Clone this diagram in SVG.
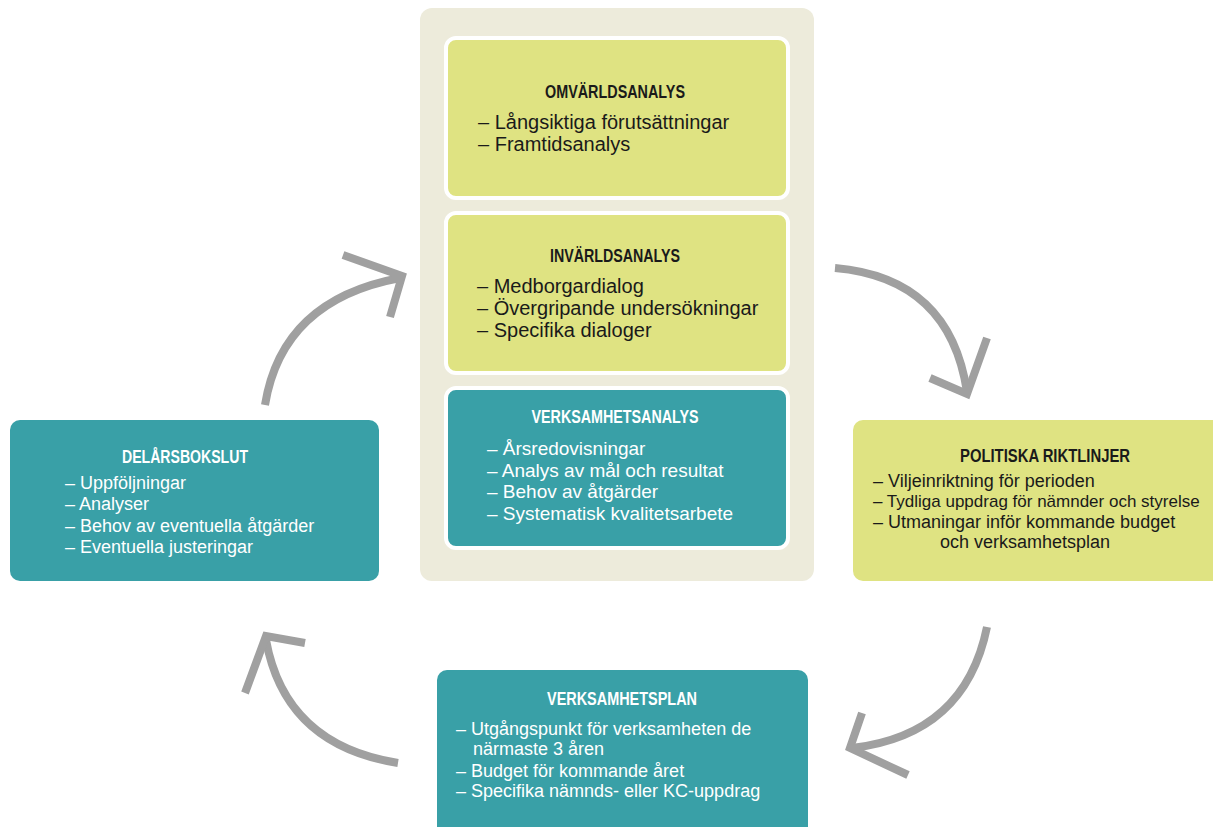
<svg xmlns="http://www.w3.org/2000/svg" width="1213" height="827" viewBox="0 0 1213 827">
<style>
.yb{fill:#dfe382;}
.tb{fill:#39a0a7;}
.inner{stroke:#ffffff;stroke-width:4;}
text{font-family:"Liberation Sans",Arial,sans-serif;font-size:18px;}
.big{font-size:20px;}
.mid{font-size:19px;}
.sm{font-size:17px;}
.h{font-weight:bold;font-size:17.5px;text-anchor:middle;}
.dk{fill:#1a1a1a;}
.wt{fill:#ffffff;}
.arr{fill:none;stroke:#a0a0a0;stroke-width:8;stroke-linecap:butt;stroke-linejoin:miter;}
</style>
<rect width="1213" height="827" fill="#ffffff"/>
<g id="analysgrupp">
<rect x="420" y="8" width="394" height="573" rx="12" fill="#edebdb"/>
</g>
<g id="omvarldsanalys">
<rect class="yb inner" x="446" y="38" width="342" height="160" rx="10"/>
<text class="h dk" x="615" y="98" textLength="140" lengthAdjust="spacingAndGlyphs">OMVÄRLDSANALYS</text>
<text class="dk big" x="478" y="129">– Långsiktiga förutsättningar</text>
<text class="dk big" x="478" y="151">– Framtidsanalys</text>
</g>
<g id="invarldsanalys">
<rect class="yb inner" x="446" y="213" width="342" height="160" rx="10"/>
<text class="h dk" x="615" y="262" textLength="130" lengthAdjust="spacingAndGlyphs">INVÄRLDSANALYS</text>
<text class="dk big" x="477" y="293">– Medborgardialog</text>
<text class="dk big" x="477" y="315">– Övergripande undersökningar</text>
<text class="dk big" x="477" y="337">– Specifika dialoger</text>
</g>
<g id="verksamhetsanalys">
<rect class="tb inner" x="446" y="388" width="342" height="160" rx="10"/>
<text class="h wt" x="615" y="423" textLength="167" lengthAdjust="spacingAndGlyphs">VERKSAMHETSANALYS</text>
<text class="wt mid" x="487" y="455">– Årsredovisningar</text>
<text class="wt mid" x="487" y="477">– Analys av mål och resultat</text>
<text class="wt mid" x="487" y="498">– Behov av åtgärder</text>
<text class="wt mid" x="487" y="520">– Systematisk kvalitetsarbete</text>
</g>
<g id="delarsbokslut">
<rect class="tb" x="10" y="420" width="369" height="161" rx="10"/>
<text class="h wt" x="185" y="463" textLength="126" lengthAdjust="spacingAndGlyphs">DELÅRSBOKSLUT</text>
<text class="wt" x="65" y="489">– Uppföljningar</text>
<text class="wt" x="65" y="510">– Analyser</text>
<text class="wt" x="65" y="532">– Behov av eventuella åtgärder</text>
<text class="wt" x="65" y="553">– Eventuella justeringar</text>
</g>
<g id="politiska">
<rect class="yb" x="853" y="420" width="380" height="161" rx="10"/>
<text class="h dk" x="1045" y="462" textLength="170" lengthAdjust="spacingAndGlyphs">POLITISKA RIKTLINJER</text>
<text class="dk" x="873" y="487">– Viljeinriktning för perioden</text>
<text class="dk sm" x="873" y="507">– Tydliga uppdrag för nämnder och styrelse</text>
<text class="dk" x="873" y="528">– Utmaningar inför kommande budget</text>
<text class="dk" x="940" y="548">och verksamhetsplan</text>
</g>
<g id="verksamhetsplan">
<rect class="tb" x="437" y="670" width="371" height="180" rx="10"/>
<text class="h wt" x="622" y="705" textLength="150" lengthAdjust="spacingAndGlyphs">VERKSAMHETSPLAN</text>
<text class="wt" x="456" y="735">– Utgångspunkt för verksamheten de</text>
<text class="wt" x="473" y="755">närmaste 3 åren</text>
<text class="wt" x="456" y="777">– Budget för kommande året</text>
<text class="wt" x="456" y="797">– Specifika nämnds- eller KC-uppdrag</text>
</g>
<g id="connectors">
<path class="arr" d="M265,405 Q282,300 400,278"/>
<path class="arr" d="M343,255 L402,276 L390,317"/>
<path class="arr" d="M835,268 Q950,278 967,392"/>
<path class="arr" d="M930,378 L967,394 L987,338"/>
<path class="arr" d="M987,627 Q965,735 852,748"/>
<path class="arr" d="M862,713 L850,748 L908,775"/>
<path class="arr" d="M398,763 Q285,745 266,640"/>
<path class="arr" d="M245,693 L266,636 L305,643"/>
</g>
</svg>
